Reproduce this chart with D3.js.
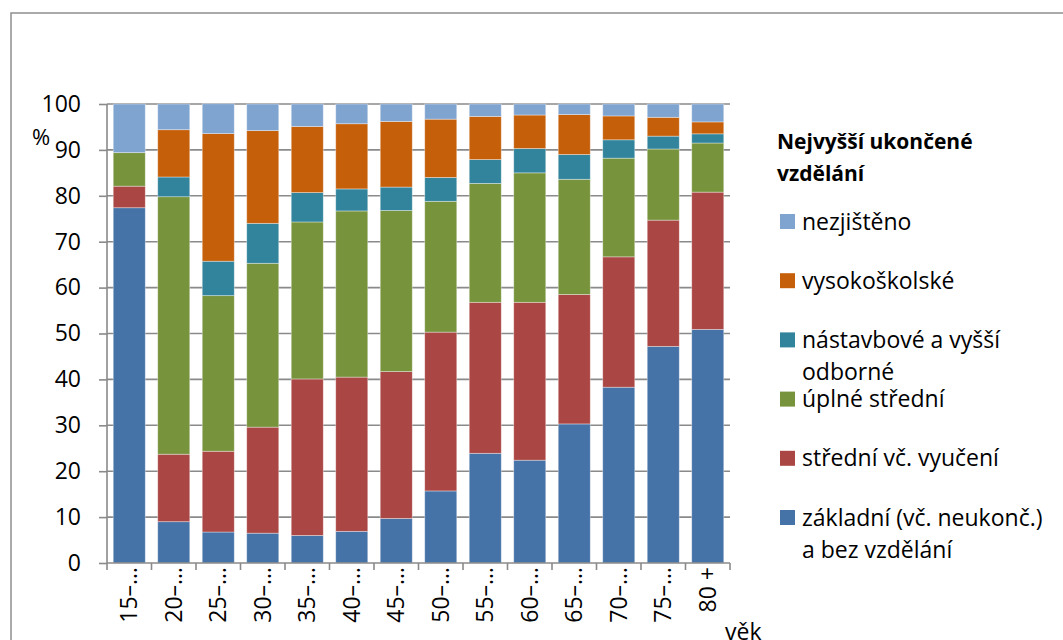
<!DOCTYPE html>
<html><head><meta charset="utf-8">
<script src="https://cdn.jsdelivr.net/npm/d3@7"></script>
<style>
body{margin:0;background:#fff;}
svg{display:block;font-family:"Open Sans",sans-serif;}
</style></head>
<body><svg id="c" width="1063" height="640"></svg>
<script>
const categories = ["15–…","20–…","25–…","30–…","35–…","40–…","45–…","50–…","55–…","60–…","65–…","70–…","75–…","80 +"];
const zakladni   = [77.4, 9.0, 6.75, 6.5, 6.0, 6.9, 9.7, 15.7, 23.9, 22.4, 30.3, 38.3, 47.2, 50.9];
const stredniVyuc= [4.7, 14.7, 17.6, 23.1, 34.1, 33.6, 32.0, 34.6, 32.9, 34.4, 28.2, 28.4, 27.5, 29.9];
const uplneStr   = [7.3, 56.1, 33.9, 35.7, 34.2, 36.2, 35.1, 28.5, 25.9, 28.2, 25.1, 21.5, 15.5, 10.7];
const nastavbove = [0.0, 4.3, 7.5, 8.7, 6.4, 4.8, 5.1, 5.2, 5.2, 5.3, 5.4, 4.0, 2.8, 2.0];
const vysokosk   = [0.0, 10.3, 27.8, 20.2, 14.4, 14.2, 14.3, 12.7, 9.4, 7.3, 8.7, 5.2, 4.1, 2.6];
const nezjisteno = [10.6, 5.6, 6.5, 5.8, 4.9, 4.3, 3.8, 3.3, 2.7, 2.4, 2.3, 2.6, 2.9, 3.9];
const yTicks = [0,10,20,30,40,50,60,70,80,90,100];
const seriesNames = ["základní (vč. neukonč.) a bez vzdělání","střední vč. vyučení","úplné střední","nástavbové a vyšší odborné","vysokoškolské","nezjištěno"];
const seriesColors = ["#4572a7","#aa4643","#77933c","#31849b","#c65f0a","#80a4d0"];
const legendTitle = ["Nejvyšší ukončené","vzdělání"];

const seriesData = [zakladni, stredniVyuc, uplneStr, nastavbove, vysokosk, nezjisteno];
const keys = ["s0","s1","s2","s3","s4","s5"];
const rows = categories.map((c,i)=>{const r={cat:c}; keys.forEach((k,j)=>r[k]=seriesData[j][i]); return r;});

const svg = d3.select("#c");
const gridCol = "#8a8a8a";

// outer border
svg.append("rect").attr("x",11).attr("y",13).attr("width",1100).attr("height",700)
  .attr("fill","none").attr("stroke","#8f8f8f").attr("stroke-width",1.5);

const x = d3.scaleBand().domain(categories).range([107,730]).paddingInner(0.28).paddingOuter(0.14);
const y = d3.scaleLinear().domain([0,100]).range([563,104]);

// gridlines
svg.append("g").selectAll("line").data(yTicks.filter(t=>t>0)).join("line")
  .attr("x1",107).attr("x2",730).attr("y1",d=>y(d)).attr("y2",d=>y(d))
  .attr("stroke",gridCol).attr("stroke-width",1.6);

// bars
const stack = d3.stack().keys(keys)(rows);
svg.append("g").selectAll("g").data(stack).join("g")
  .attr("fill",(d,i)=>seriesColors[i])
  .selectAll("rect").data(d=>d).join("rect")
  .attr("x",d=>x(d.data.cat)).attr("width",x.bandwidth())
  .attr("y",d=>y(d[1])).attr("height",d=>Math.max(0,y(d[0])-y(d[1])))
  .attr("stroke","rgba(255,255,255,0.45)").attr("stroke-width",0.8);

// y axis
const yAxis = d3.axisLeft(y).tickValues(yTicks).tickSize(8).tickPadding(18);
const ya = svg.append("g").attr("transform","translate(107,0)").call(yAxis);
ya.select(".domain").attr("stroke",gridCol).attr("stroke-width",1.6).attr("d","M0,104V563");
ya.selectAll(".tick line").attr("stroke",gridCol).attr("stroke-width",1.6);
ya.selectAll(".tick text").attr("font-size",23).attr("font-family","Open Sans").attr("fill","#000").attr("x",-26);

// x axis
const xa = svg.append("g").attr("transform","translate(0,563)");
xa.append("line").attr("x1",107).attr("x2",730).attr("y1",0).attr("y2",0).attr("stroke",gridCol).attr("stroke-width",1.6);
const bounds = categories.map(c=>x(c)-x.step()*x.paddingInner()/2).concat([730]);
xa.selectAll("line.t").data(bounds).join("line").attr("class","t")
  .attr("x1",d=>d).attr("x2",d=>d).attr("y1",0).attr("y2",7).attr("stroke",gridCol).attr("stroke-width",1.6);
xa.selectAll("text").data(categories).join("text")
  .attr("transform",d=>`translate(${x(d)+x.bandwidth()/2},4) rotate(-90)`)
  .attr("text-anchor","end").attr("dy","0.35em").attr("font-size",23).text(d=>d);

// axis titles
svg.append("text").attr("x",32).attr("y",145).attr("font-size",22).text("%");
svg.append("text").attr("x",725).attr("y",640).attr("font-size",23).text("věk");

// legend
const lg = svg.append("g");
lg.selectAll("text.title").data(legendTitle).join("text").attr("class","title")
  .attr("x",777).attr("y",(d,i)=>149+i*32).attr("font-size",21).attr("font-weight","bold").text(d=>d);
const legendOrder = [5,4,3,2,1,0];
const wrapLines = {0:["základní (vč. neukonč.)","a bez vzdělání"],3:["nástavbové a vyšší","odborné"]};
legendOrder.forEach((si,k)=>{
  const cy = 221.5 + k*59.2;
  lg.append("rect").attr("x",780).attr("y",cy-7.5).attr("width",15).attr("height",15).attr("fill",seriesColors[si]);
  const lines = wrapLines[si] || [seriesNames[si]];
  lines.forEach((t,li)=>{
    lg.append("text").attr("x",802).attr("y",cy+8+li*32).attr("font-size",23).text(t);
  });
});
</script></body></html>
